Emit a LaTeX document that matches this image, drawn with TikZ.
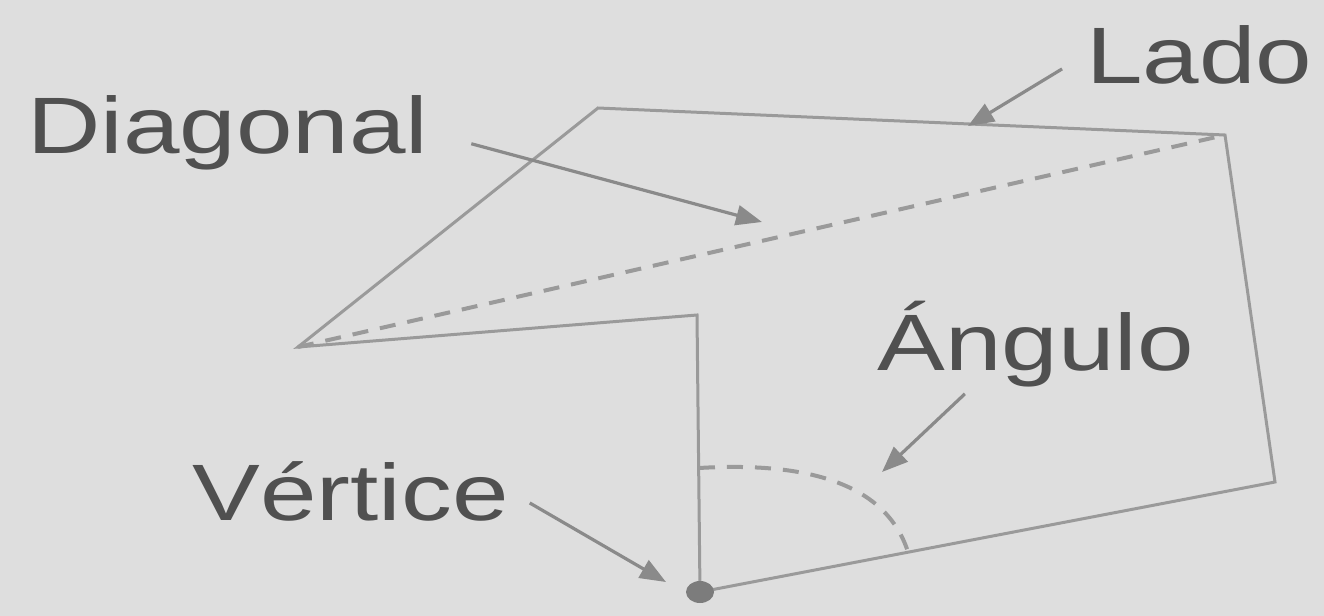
\documentclass[tikz,border=0pt]{standalone}
\usepackage{fontspec}
\setmainfont[FakeStretch=1.27]{Liberation Sans}
\usepackage{tikz}
\usetikzlibrary{arrows.meta,calc}
\definecolor{paper}{HTML}{DEDEDE}
\definecolor{ink}{HTML}{505050}
\definecolor{rule}{HTML}{9A9A9A}
\definecolor{tip}{HTML}{8A8A8A}

\begin{document}
\begin{tikzpicture}[x=0.5pt,y=-0.5pt,
  side/.style={draw=rule,line width=1.5pt},
  hidden/.style={draw=rule,line width=2pt,dash pattern=on 8pt off 6pt},
  lbl/.style={inner sep=0pt,anchor=base west,text=ink,font=\fontsize{40}{48}\selectfont},
  pointer/.style={-{Triangle[length=13pt,width=10pt]},line width=1.6pt,draw=tip,fill=tip}
]
\fill[paper] (0,0) rectangle (1324,616);
\useasboundingbox (0,0) rectangle (1324,616);
% corners of the polygon
\coordinate (p1) at (598,108);
\coordinate (p2) at (1225,135);
\coordinate (p3) at (1275,482);
\coordinate (p4) at (700,592);
\coordinate (p5) at (697,315);
\coordinate (p6) at (298,347);
\draw[side] (p1) -- (p2) -- (p3) -- (p4) -- (p5) -- (p6) -- cycle;
\draw[hidden] (p6) -- (p2);
% angle mark at the vertex
\coordinate (a1) at (699,468);
\coordinate (a2) at (908,552);
\draw[hidden] (a1) .. controls (800,462) and (885,480) .. (a2);
\fill[tip!90!black] (p4) ellipse (7pt and 5.5pt);
% labels
\node[lbl] (diag) at (27,153) {Diagonal};
\node[lbl] (lado) at (1086,83) {Lado};
\node[lbl] (angulo) at (877,370) {Ángulo};
\node[lbl] (vert) at (192,520) {Vértice};
% arrow ends
\coordinate (diagtip) at (762,222);
\coordinate (ladotip) at (968,126);
\coordinate (angtip) at (882,472);
\coordinate (verttip) at (666,582);
\draw[pointer,shorten <=22pt] (diag.east) -- (diagtip);
\draw[pointer,shorten <=14pt] (lado.west) -- (ladotip);
\draw[pointer,shorten <=5pt] ($(angulo.south west)!0.3!(angulo.south east)$) -- (angtip);
\draw[pointer,shorten <=12pt] (vert.east) -- (verttip);
\end{tikzpicture}
\end{document}
